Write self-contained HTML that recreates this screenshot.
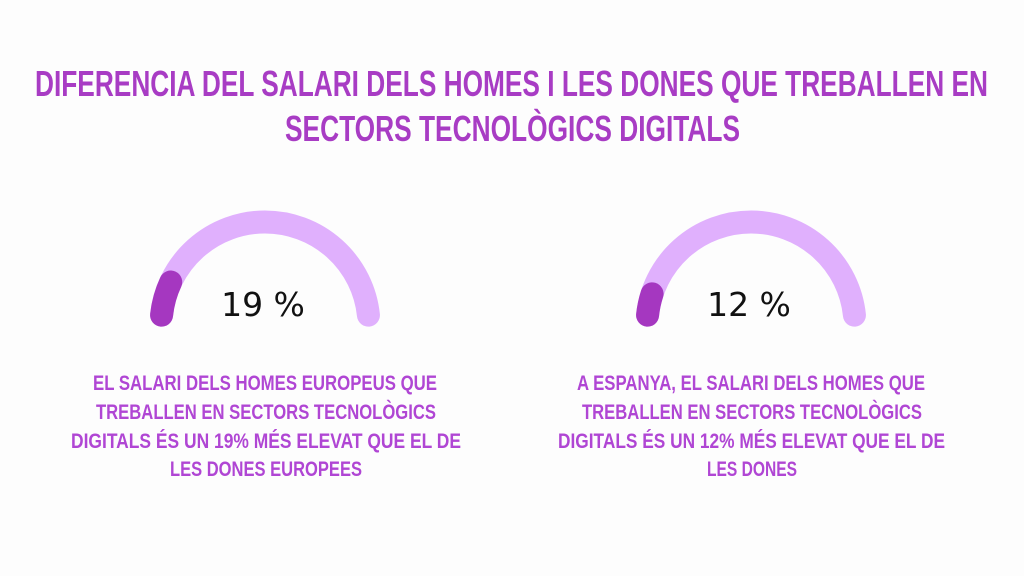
<!DOCTYPE html>
<html><head><meta charset="utf-8"><style>
html,body{margin:0;padding:0;background:#fdfdfd;}
svg{display:block}
</style></head><body>
<svg width="1024" height="576" viewBox="0 0 1024 576" xmlns="http://www.w3.org/2000/svg">
<rect width="1024" height="576" fill="#fdfdfd"/>
<g font-family="'Liberation Sans', sans-serif" font-weight="bold" fill="#a83cc4">
<text x="35" y="96" font-size="36" textLength="953" lengthAdjust="spacingAndGlyphs">DIFERENCIA DEL SALARI DELS HOMES I LES DONES QUE TREBALLEN EN</text>
<text x="285" y="141" font-size="36" textLength="455" lengthAdjust="spacingAndGlyphs">SECTORS TECNOLÒGICS DIGITALS</text>
</g>
<g id="gauges"></g>
<g font-family="'Liberation Sans', sans-serif" font-weight="bold" fill="#b046d4" font-size="21">
<text x="93" y="390" textLength="344" lengthAdjust="spacingAndGlyphs">EL SALARI DELS HOMES EUROPEUS QUE</text>
<text x="96" y="419" textLength="340" lengthAdjust="spacingAndGlyphs">TREBALLEN EN SECTORS TECNOLÒGICS</text>
<text x="71" y="448" textLength="390" lengthAdjust="spacingAndGlyphs">DIGITALS ÉS UN 19% MÉS ELEVAT QUE EL DE</text>
<text x="170" y="476" textLength="192" lengthAdjust="spacingAndGlyphs">LES DONES EUROPEES</text>
</g>
<g font-family="'Liberation Sans', sans-serif" font-weight="bold" fill="#b046d4" font-size="21">
<text x="577" y="390" textLength="348" lengthAdjust="spacingAndGlyphs">A ESPANYA, EL SALARI DELS HOMES QUE</text>
<text x="582" y="419" textLength="340" lengthAdjust="spacingAndGlyphs">TREBALLEN EN SECTORS TECNOLÒGICS</text>
<text x="558" y="448" textLength="387" lengthAdjust="spacingAndGlyphs">DIGITALS ÉS UN 12% MÉS ELEVAT QUE EL DE</text>
<text x="707" y="476" textLength="90" lengthAdjust="spacingAndGlyphs">LES DONES</text>
</g>
</svg>
<script>
const gaugeNames = ['europe-gauge', 'spain-gauge'];
const gaugeValues = [19, 12];
const gaugeLabels = ['19 %', '12 %'];
const gaugeMax = 100;

const NS = 'http://www.w3.org/2000/svg';
const centers = [265, 751];
const cy = 326, r = 104, sw = 23;
const startDeg = 174, endDeg = 6, fullSpan = 100;
function pt(cx, deg) {
  const a = deg * Math.PI / 180;
  return [cx + r * Math.cos(a), cy - r * Math.sin(a)];
}
function arcPath(cx, d0, d1) {
  const p0 = pt(cx, d0), p1 = pt(cx, d1);
  const large = (d0 - d1) > 180 ? 1 : 0;
  return `M${p0[0]},${p0[1]} A${r},${r} 0 ${large} 1 ${p1[0]},${p1[1]}`;
}
const g = document.getElementById('gauges');
gaugeValues.forEach((v, i) => {
  const cx = centers[i];
  const grp = document.createElementNS(NS, 'g');
  
  
  const track = document.createElementNS(NS, 'path');
  track.setAttribute('d', arcPath(cx, startDeg, endDeg));
  track.setAttribute('fill', 'none');
  track.setAttribute('stroke', '#e0b0fd');
  track.setAttribute('stroke-width', sw);
  track.setAttribute('stroke-linecap', 'round');
  
  
  grp.appendChild(track);
  const valEnd = startDeg - (v / gaugeMax) * fullSpan;
  const fill = document.createElementNS(NS, 'path');
  fill.setAttribute('d', arcPath(cx, startDeg, valEnd));
  fill.setAttribute('fill', 'none');
  fill.setAttribute('stroke', '#a537c0');
  fill.setAttribute('stroke-width', sw);
  fill.setAttribute('stroke-linecap', 'round');
  
  
  grp.appendChild(fill);
  const t = document.createElementNS(NS, 'text');
  t.setAttribute('x', cx - 2);
  t.setAttribute('y', 316);
  t.setAttribute('text-anchor', 'middle');
  t.setAttribute('font-family', "'DejaVu Sans', 'Liberation Sans', sans-serif");
  t.setAttribute('font-size', '33');
  t.setAttribute('fill', '#111');
  
  
  t.textContent = gaugeLabels[i];
  grp.appendChild(t);
  g.appendChild(grp);
});
</script>
</body></html>
